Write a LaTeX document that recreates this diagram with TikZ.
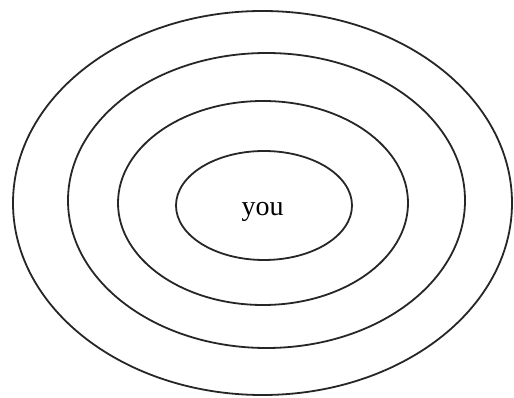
\documentclass[tikz,border=0pt]{standalone}
\usepackage{fontspec}
\setmainfont{Liberation Serif}
\begin{document}
\begin{tikzpicture}[x=1pt,y=-1pt,ring/.style={draw=black!85,line width=1.8pt}]
\useasboundingbox[fill=white] (0,0) rectangle (514,398);
\draw[ring] (262.5,203) ellipse [x radius=249.5, y radius=192];
\draw[ring] (266.5,200.5) ellipse [x radius=198.5, y radius=147.5];
\draw[ring] (263,203) ellipse [x radius=145, y radius=102];
\draw[ring] (264,205.5) ellipse [x radius=88, y radius=54.5];
\node[font=\fontsize{28}{30}\selectfont, inner sep=0pt, anchor=base] (you) at (262.5,215) {you};
\end{tikzpicture}
\end{document}
